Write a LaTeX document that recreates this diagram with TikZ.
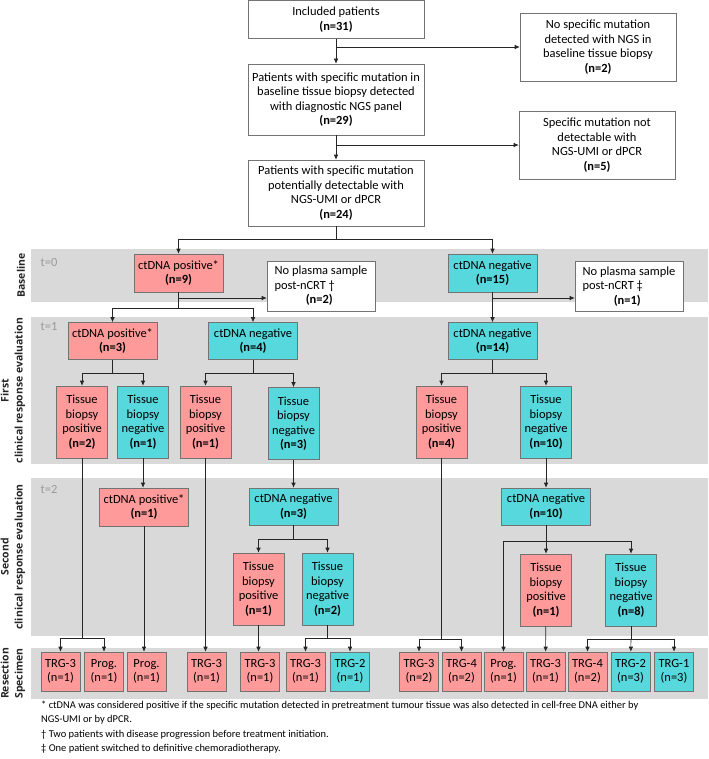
\documentclass[tikz,border=0pt]{standalone}
\usepackage{fontspec}
\setmainfont{Carlito}
\newfontfamily\lanefont{Open Sans}
\usetikzlibrary{arrows.meta}
\definecolor{salmon}{HTML}{FF9A9A}
\definecolor{aqua}{HTML}{57D8DC}
\definecolor{lanegray}{HTML}{D9D9D9}
\definecolor{tgray}{HTML}{9A9A9A}
\begin{document}
\begin{tikzpicture}[x=1bp,y=-1bp,
    font=\fontsize{12.5}{14.6}\selectfont,
    every node/.style={inner sep=0pt,align=center},
    whitebox/.style={draw=black!55,fill=white,line width=0.6bp},
    posbox/.style={draw=black!55,fill=salmon,line width=0.6bp},
    negbox/.style={draw=black!55,fill=aqua,line width=0.6bp},
    ct/.style={minimum width=89bp,minimum height=37bp},
    tb/.style={minimum width=51bp,minimum height=72bp},
    trg/.style={minimum width=39bp,minimum height=39bp},
    lanelabel/.style={rotate=90,text=black!85,font=\lanefont\bfseries\fontsize{10.5}{14}\selectfont},
    tlabel/.style={text=tgray},
    link/.style={draw=black!85,line width=0.6bp},
    flow/.style={link,-{Latex[length=5bp,width=4.5bp]}}]
\useasboundingbox (0,0) rectangle (709,759);

% lanes
\fill[lanegray] (31,249) rectangle (708,302);
\fill[lanegray] (31,317) rectangle (708,464);
\fill[lanegray] (31,478) rectangle (708,636);
\fill[lanegray] (31,648) rectangle (708,699);
\node[lanelabel] (lb0) at (21,275.5) {Baseline};
\node[lanelabel] (lb1) at (13,390.5) {First\\clinical response evaluation};
\node[lanelabel] (lb2) at (13,557) {Second\\clinical response evaluation};
\node[lanelabel] (lb3) at (13,673.5) {Resection\\Specimen};
\node[tlabel] (t0) at (49,263) {t=0};
\node[tlabel] (t1) at (49,327) {t=1};
\node[tlabel] (t2) at (49,489) {t=2};

% selection
\node[whitebox,minimum width=176bp,minimum height=38bp] (inc) at (336,19.5) {Included patients\\\textbf{(n=31)}};
\node[whitebox,minimum width=156bp,minimum height=68bp] (nongs) at (598,47) {No specific mutation\\detected with NGS in\\baseline tissue biopsy\\\textbf{(n=2)}};
\node[whitebox,minimum width=176bp,minimum height=71bp] (mut) at (336,99.5) {Patients with specific mutation in\\baseline tissue biopsy detected\\with diagnostic NGS panel\\\textbf{(n=29)}};
\node[whitebox,minimum width=156bp,minimum height=68bp] (notdet) at (597,145) {Specific mutation not\\detectable with\\NGS-UMI or dPCR\\\textbf{(n=5)}};
\node[whitebox,minimum width=176bp,minimum height=66bp] (pot) at (336,193) {Patients with specific mutation\\potentially detectable with\\NGS-UMI or dPCR\\\textbf{(n=24)}};

% baseline
\node[posbox,ct,minimum height=38bp] (p0) at (178.5,273) {ctDNA positive*\\\textbf{(n=9)}};
\node[whitebox,minimum width=108bp,minimum height=50bp,align=left] (noA) at (321,286) {No plasma sample\\post-nCRT †\\\hspace*{2.5em}\textbf{(n=2)}};
\node[negbox,ct,minimum height=38bp] (n0) at (492.5,273) {ctDNA negative\\\textbf{(n=15)}};
\node[whitebox,minimum width=108bp,minimum height=50bp,align=left] (noB) at (629,286.5) {No plasma sample\\post-nCRT ‡\\\hspace*{2.5em}\textbf{(n=1)}};

% first evaluation
\node[posbox,ct] (p1) at (112.5,341) {ctDNA positive*\\\textbf{(n=3)}};
\node[negbox,ct] (n1a) at (253,341) {ctDNA negative\\\textbf{(n=4)}};
\node[negbox,ct] (n1b) at (492.5,341) {ctDNA negative\\\textbf{(n=14)}};
\node[posbox,tb] (tp1a) at (82,422) {Tissue\\biopsy\\positive\\\textbf{(n=2)}};
\node[negbox,tb] (tn1a) at (143,422) {Tissue\\biopsy\\negative\\\textbf{(n=1)}};
\node[posbox,tb] (tp1b) at (205.5,422) {Tissue\\biopsy\\positive\\\textbf{(n=1)}};
\node[negbox,tb] (tn1b) at (293.5,423.5) {Tissue\\biopsy\\negative\\\textbf{(n=3)}};
\node[posbox,tb] (tp1c) at (441.5,422) {Tissue\\biopsy\\positive\\\textbf{(n=4)}};
\node[negbox,tb] (tn1c) at (546,422) {Tissue\\biopsy\\negative\\\textbf{(n=10)}};

% second evaluation
\node[posbox,ct,minimum height=38bp] (p2) at (144,507) {ctDNA positive*\\\textbf{(n=1)}};
\node[negbox,ct] (n2a) at (293.5,506.5) {ctDNA negative\\\textbf{(n=3)}};
\node[negbox,ct] (n2b) at (546,506.5) {ctDNA negative\\\textbf{(n=10)}};
\node[posbox,tb] (tp2a) at (258.5,589) {Tissue\\biopsy\\positive\\\textbf{(n=1)}};
\node[negbox,tb] (tn2a) at (327.5,589) {Tissue\\biopsy\\negative\\\textbf{(n=2)}};
\node[posbox,tb] (tp2b) at (546,590) {Tissue\\biopsy\\positive\\\textbf{(n=1)}};
\node[negbox,tb] (tn2b) at (631,590) {Tissue\\biopsy\\negative\\\textbf{(n=8)}};

% resection specimen
\node[posbox,trg] (r1) at (60.5,671.5) {TRG-3\\(n=1)};
\node[posbox,trg] (r2) at (104,671.5) {Prog.\\(n=1)};
\node[posbox,trg] (r3) at (146.5,671.5) {Prog.\\(n=1)};
\node[posbox,trg] (r4) at (206.5,671.5) {TRG-3\\(n=1)};
\node[posbox,trg] (r5) at (260,671.5) {TRG-3\\(n=1)};
\node[posbox,trg] (r6) at (305.5,671.5) {TRG-3\\(n=1)};
\node[negbox,trg] (r7) at (350,671.5) {TRG-2\\(n=1)};
\node[posbox,trg] (r8) at (419,671.5) {TRG-3\\(n=2)};
\node[posbox,trg] (r9) at (461.5,671.5) {TRG-4\\(n=2)};
\node[posbox,trg] (r10) at (503.5,671.5) {Prog.\\(n=1)};
\node[posbox,trg] (r11) at (545.5,671.5) {TRG-3\\(n=1)};
\node[posbox,trg] (r12) at (587.5,671.5) {TRG-4\\(n=2)};
\node[negbox,trg] (r13) at (630.5,671.5) {TRG-2\\(n=3)};
\node[negbox,trg] (r14) at (674,671.5) {TRG-1\\(n=3)};

% branch points
\coordinate (j1) at (336,47);
\coordinate (j2) at (336,145);
\coordinate (j3) at (336,239);
\coordinate (j4) at (178.5,298);
\coordinate (j5) at (178.5,308);
\coordinate (j6) at (492.5,298);
\coordinate (j7) at (112.5,373);
\coordinate (j8) at (253,373);
\coordinate (j9) at (492.5,373);
\coordinate (j10) at (82,638);
\coordinate (j11) at (293.5,539);
\coordinate (j12) at (327.5,638);
\coordinate (j13) at (441.5,639);
\coordinate (j14) at (546,541);
\coordinate (j15) at (631,639);

% connectors
\draw[flow] (inc) -- (mut);
\draw[flow] (j1) -- (j1 -| nongs.west);
\draw[flow] (mut) -- (pot);
\draw[flow] (j2) -- (j2 -| notdet.west);
\draw[link] (pot) -- (j3);
\draw[flow] (j3) -| (p0);
\draw[flow] (j3) -| (n0);
\draw[link] (p0) -- (j5);
\draw[flow] (j4) -- (j4 -| noA.west);
\draw[flow] (j5) -| (p1);
\draw[flow] (j5) -| (n1a);
\draw[flow] (n0) -- (n1b);
\draw[flow] (j6) -- (j6 -| noB.west);
\draw[link] (p1) -- (j7);
\draw[flow] (j7) -| (tp1a);
\draw[flow] (j7) -| (tn1a);
\draw[link] (n1a) -- (j8);
\draw[flow] (j8) -| (tp1b);
\draw[flow] (j8) -| (tn1b);
\draw[link] (n1b) -- (j9);
\draw[flow] (j9) -| (tp1c);
\draw[flow] (j9) -| (tn1c);
\draw[link] (tp1a) -- (j10);
\draw[flow] (j10) -| (r1);
\draw[flow] (j10) -| (r2);
\draw[flow] (tn1a) -- (tn1a |- p2.north);
\draw[flow] (p2) -- (p2 |- r3.north);
\draw[flow] (tp1b) -- (tp1b |- r4.north);
\draw[flow] (tn1b) -- (n2a);
\draw[link] (n2a) -- (j11);
\draw[flow] (j11) -| (tp2a);
\draw[flow] (j11) -| (tn2a);
\draw[flow] (tp2a) -- (tp2a |- r5.north);
\draw[link] (tn2a) -- (j12);
\draw[flow] (j12) -| (r6);
\draw[flow] (j12) -| (r7);
\draw[link] (tp1c) -- (j13);
\draw[flow] (j13) -| (r8);
\draw[flow] (j13) -| (r9);
\draw[flow] (tn1c) -- (n2b);
\draw[link] (n2b) -- (j14);
\draw[flow] (j14) -| (r10);
\draw[flow] (j14) -- (tp2b);
\draw[flow] (j14) -| (tn2b);
\draw[flow] (tp2b) -- (r11);
\draw[link] (tn2b) -- (j15);
\draw[flow] (j15) -| (r12);
\draw[flow] (j15) -- (r13);
\draw[flow] (j15) -| (r14);

% footnotes
\node[anchor=north west,align=left,font=\fontsize{10.5}{14.6}\selectfont] (notes) at (41,700.5)
  {* ctDNA was considered positive if the specific mutation detected in pretreatment tumour tissue was also detected in cell-free DNA either by\\
   NGS-UMI or by dPCR.\\
   † Two patients with disease progression before treatment initiation.\\
   ‡ One patient switched to definitive chemoradiotherapy.};
\end{tikzpicture}
\end{document}
